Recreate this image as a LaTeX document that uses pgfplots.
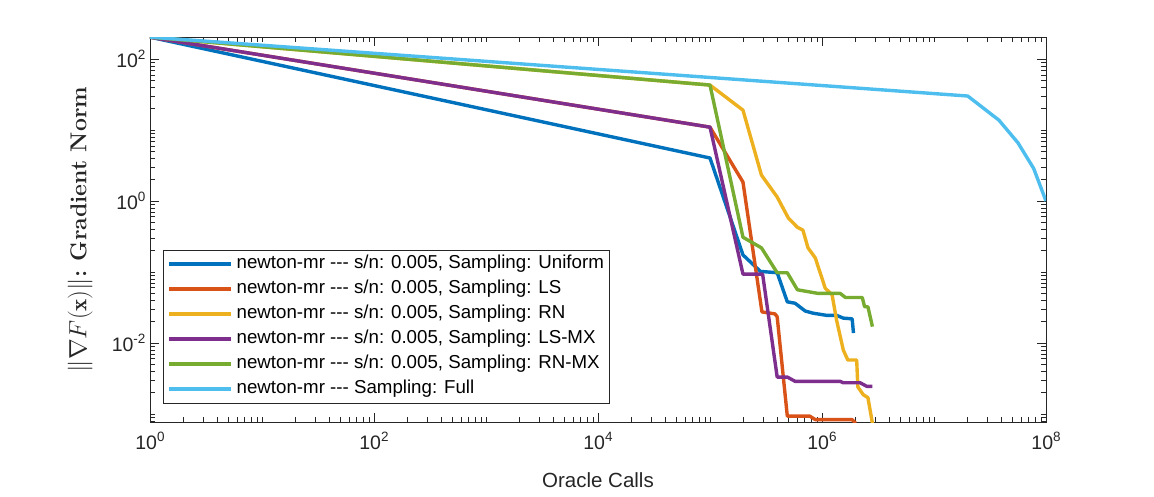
\documentclass[border=0pt]{standalone}
\usepackage{fontspec}
\setsansfont{Liberation Sans}
\usepackage{pgfplots}
\pgfplotsset{compat=1.18}
\definecolor{c1}{rgb}{0,0.447,0.741}
\definecolor{c2}{rgb}{0.85,0.325,0.098}
\definecolor{c3}{rgb}{0.929,0.694,0.125}
\definecolor{c4}{rgb}{0.494,0.184,0.556}
\definecolor{c5}{rgb}{0.466,0.674,0.188}
\definecolor{c6}{rgb}{0.301,0.745,0.933}
\definecolor{axc}{rgb}{0.15,0.15,0.15}
\newcommand\tsup[1]{\raisebox{7.5pt}{\fontsize{13.5}{14}\selectfont #1}}
\newcommand\dsh{-{}-{}-}
\begin{document}
\begin{tikzpicture}
\path[use as bounding box] (-150pt,-74pt) rectangle (1004pt,422pt);
\begin{axis}[
  at={(0,0)}, anchor=south west,
  scale only axis, width=896pt, height=385pt,
  xmode=log, ymode=log,
  xmin=1, xmax=1e8, ymin=7.7e-4, ymax=205,
  xtick={1,1e2,1e4,1e6,1e8},
  xticklabels={10\tsup{0},10\tsup{2},10\tsup{4},10\tsup{6},10\tsup{8}},
  ytick={1e-2,1,1e2},
  yticklabels={10\tsup{-2},10\tsup{0},10\tsup{2}},
  minor xtick={2,3,4,5,6,7,8,9,10,20,30,40,50,60,70,80,90,200,300,400,500,600,700,800,900,1e3,2e3,3e3,4e3,5e3,6e3,7e3,8e3,9e3,2e4,3e4,4e4,5e4,6e4,7e4,8e4,9e4,1e5,2e5,3e5,4e5,5e5,6e5,7e5,8e5,9e5,2e6,3e6,4e6,5e6,6e6,7e6,8e6,9e6,1e7,2e7,3e7,4e7,5e7,6e7,7e7,8e7,9e7},
  minor ytick={8e-4,9e-4,1e-3,2e-3,3e-3,4e-3,5e-3,6e-3,7e-3,8e-3,9e-3,2e-2,3e-2,4e-2,5e-2,6e-2,7e-2,8e-2,9e-2,0.1,0.2,0.3,0.4,0.5,0.6,0.7,0.8,0.9,2,3,4,5,6,7,8,9,10,20,30,40,50,60,70,80,90,200},
  tick align=inside,
  major tick length=9pt, minor tick length=5pt,
  every tick/.style={axc, line width=0.6pt},
  axis line style={axc, line width=0.6pt},
  tick label style={font=\sffamily\fontsize{19.5}{22}\selectfont, text=axc},
  xticklabel style={yshift=-7pt},
  yticklabel style={xshift=-1pt},
  xlabel={Oracle Calls},
  xlabel style={font=\sffamily\fontsize{20.5}{24}\selectfont, text=axc, at={(axis description cs:0.5,-0.151)}, anchor=center},
  ylabel={$\|\nabla F(\mathbf{x})\|$\textbf{:} \textbf{Gradient Norm}},
  ylabel style={font=\rmfamily\fontsize{23}{27}\selectfont, text=axc, at={(axis description cs:-0.078,0.5)}, anchor=center},
  every axis plot/.append style={line width=3.4pt, line join=round},
  legend style={at={(axis description cs:0.0145,0.049)}, anchor=south west,
    font=\sffamily\fontsize{18.7}{22}\selectfont, draw=axc, line width=0.6pt,
    inner sep=4pt, row sep=5pt,
    nodes={inner sep=1pt, text height=14pt, text depth=4pt}},
  legend cell align=left,
  legend image code/.code={\draw[#1, line width=3.4pt] (0pt,0pt) -- (62pt,0pt);},
]
\addplot[c1] coordinates {(1,204) (1e5,4.04) (1.97e5,0.174) (2.82e5,0.102) (3.98e5,0.0977) (4.90e5,0.038) (5.75e5,0.0363) (7.08e5,0.0282) (8.32e5,0.0263) (1.10e6,0.0245) (1.35e6,0.0245) (1.55e6,0.0224) (1.86e6,0.0219) (1.91e6,0.0138)};
\addlegendentry{\hspace{3pt}newton-mr \dsh{} s/n: 0.005, Sampling: Uniform}
\addplot[c2] coordinates {(1,204) (1e5,11.0) (1.97e5,1.85) (2.91e5,0.0274) (3.80e5,0.0257) (3.98e5,0.0234) (4.90e5,9.33e-4) (7.76e5,9.33e-4) (8.71e5,8.32e-4) (1.86e6,8.32e-4) (2.0e6,7.41e-4)};
\addlegendentry{\hspace{3pt}newton-mr \dsh{} s/n: 0.005, Sampling: LS}
\addplot[c3] coordinates {(1,204) (1e5,43.1) (1.97e5,19.1) (2.88e5,2.32) (3.98e5,1.14) (5.01e5,0.575) (6.03e5,0.427) (6.76e5,0.389) (7.50e5,0.219) (8.71e5,0.158) (1.07e6,0.0589) (1.23e6,0.0479) (1.35e6,0.0209) (1.55e6,7.94e-3) (1.70e6,5.75e-3) (2.04e6,5.75e-3) (2.09e6,2.40e-3) (2.34e6,1.86e-3) (2.57e6,1.70e-3) (2.82e6,7.41e-4)};
\addlegendentry{\hspace{3pt}newton-mr \dsh{} s/n: 0.005, Sampling: RN}
\addplot[c4] coordinates {(1,204) (1e5,11.0) (1.97e5,0.0933) (2.95e5,0.0933) (3.98e5,3.31e-3) (4.90e5,3.31e-3) (5.75e5,2.88e-3) (1.45e6,2.88e-3) (1.55e6,2.75e-3) (2.19e6,2.75e-3) (2.51e6,2.45e-3) (2.82e6,2.45e-3)};
\addlegendentry{\hspace{3pt}newton-mr \dsh{} s/n: 0.005, Sampling: LS-MX}
\addplot[c5] coordinates {(1,204) (1e5,43.1) (1.97e5,0.309) (2.88e5,0.219) (3.98e5,0.0977) (4.90e5,0.0977) (6.03e5,0.0562) (9.12e5,0.0501) (1.45e6,0.0501) (1.62e6,0.0437) (2.29e6,0.0437) (2.40e6,0.0324) (2.57e6,0.0324) (2.82e6,0.0170)};
\addlegendentry{\hspace{3pt}newton-mr \dsh{} s/n: 0.005, Sampling: RN-MX}
\addplot[c6] coordinates {(1,204) (2.0e7,30.2) (3.80e7,13.8) (5.62e7,6.61) (7.76e7,2.88) (1e8,1.0)};
\addlegendentry{\hspace{3pt}newton-mr \dsh{} Sampling: Full}
\end{axis}
\end{tikzpicture}
\end{document}
